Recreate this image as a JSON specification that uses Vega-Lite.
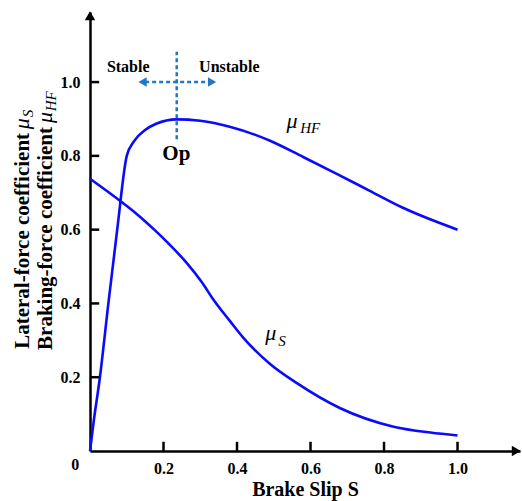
{
  "$schema": "https://vega.github.io/schema/vega-lite/v6.json",
  "width": 430,
  "height": 439,
  "autosize": {"type": "none"},
  "padding": {"left": 90, "top": 12, "right": 2, "bottom": 50},
  "background": "white",
  "config": {"view": {"stroke": null}},
  "datasets": {
    "curves": [
      {"series": "HF", "s": 0, "mu": 0},
      {"series": "HF", "s": 0.01, "mu": 0.08},
      {"series": "HF", "s": 0.027, "mu": 0.2},
      {"series": "HF", "s": 0.05, "mu": 0.4},
      {"series": "HF", "s": 0.074, "mu": 0.6},
      {"series": "HF", "s": 0.1, "mu": 0.8},
      {"series": "HF", "s": 0.12, "mu": 0.84},
      {"series": "HF", "s": 0.15, "mu": 0.87},
      {"series": "HF", "s": 0.18, "mu": 0.887},
      {"series": "HF", "s": 0.236, "mu": 0.899},
      {"series": "HF", "s": 0.3, "mu": 0.895},
      {"series": "HF", "s": 0.38, "mu": 0.879},
      {"series": "HF", "s": 0.45, "mu": 0.857},
      {"series": "HF", "s": 0.49, "mu": 0.841},
      {"series": "HF", "s": 0.58, "mu": 0.797},
      {"series": "HF", "s": 0.67, "mu": 0.752},
      {"series": "HF", "s": 0.76, "mu": 0.706},
      {"series": "HF", "s": 0.85, "mu": 0.66},
      {"series": "HF", "s": 1.0, "mu": 0.6},
      {"series": "S", "s": 0, "mu": 0.738},
      {"series": "S", "s": 0.086, "mu": 0.675},
      {"series": "S", "s": 0.123, "mu": 0.646},
      {"series": "S", "s": 0.177, "mu": 0.598},
      {"series": "S", "s": 0.218, "mu": 0.558},
      {"series": "S", "s": 0.263, "mu": 0.51},
      {"series": "S", "s": 0.304, "mu": 0.458},
      {"series": "S", "s": 0.336, "mu": 0.41},
      {"series": "S", "s": 0.381, "mu": 0.352},
      {"series": "S", "s": 0.418, "mu": 0.306},
      {"series": "S", "s": 0.49, "mu": 0.236},
      {"series": "S", "s": 0.563, "mu": 0.184},
      {"series": "S", "s": 0.681, "mu": 0.116},
      {"series": "S", "s": 0.826, "mu": 0.066},
      {"series": "S", "s": 0.926, "mu": 0.05},
      {"series": "S", "s": 1.0, "mu": 0.042}
    ],
    "xticks": [{"s": 0.2, "mu": 0}, {"s": 0.4, "mu": 0}, {"s": 0.6, "mu": 0}, {"s": 0.8, "mu": 0}, {"s": 1.0, "mu": 0}],
    "yticks": [{"s": 0, "mu": 0.2}, {"s": 0, "mu": 0.4}, {"s": 0, "mu": 0.6}, {"s": 0, "mu": 0.8}, {"s": 0, "mu": 1.0}],
    "vrule": [{"s": 0.236, "y1": 0.845, "y2": 1.082}],
    "hrule": [{"s1": 0.15, "s2": 0.325, "mu": 1.0}],
    "heads": [
      {"s": 0.143, "mu": 1.0, "shape": "triangle-left"},
      {"s": 0.332, "mu": 1.0, "shape": "triangle-right"}
    ],
    "axisarrows": [
      {"s": 1.16, "mu": 0, "shape": "triangle-right"},
      {"s": 0, "mu": 1.18, "shape": "triangle-up"}
    ],
    "boldtext": [
      {"s": 0.104, "mu": 1.04, "text": "Stable", "size": 16},
      {"s": 0.379, "mu": 1.04, "text": "Unstable", "size": 16},
      {"s": 0.235, "mu": 0.805, "text": "Op", "size": 21},
      {"s": -0.04, "mu": -0.038, "text": "0", "size": 16}
    ],
    "ytitle": [
      {"s": -0.166, "mu": 0.277, "text": "Lateral-force coefficient"},
      {"s": -0.1035, "mu": 0.274, "text": "Braking-force coefficient"}
    ],
    "ytitlemu": [
      {"s": -0.166, "mu": 0.872, "text": "μ"},
      {"s": -0.1035, "mu": 0.889, "text": "μ"}
    ],
    "ytitlesub": [
      {"s": -0.155, "mu": 0.905, "text": "S"},
      {"s": -0.093, "mu": 0.921, "text": "HF"}
    ],
    "mutext": [
      {"s": 0.55, "mu": 0.875, "text": "μ"},
      {"s": 0.492, "mu": 0.302, "text": "μ"}
    ],
    "subtext": [
      {"s": 0.572, "mu": 0.861, "text": "HF"},
      {"s": 0.512, "mu": 0.285, "text": "S"}
    ]
  },
  "layer": [
    {
      "data": {"name": "curves"},
      "mark": {"type": "line", "color": "#0a0aff", "strokeWidth": 2.6, "interpolate": "monotone"},
      "encoding": {
        "x": {
          "field": "s", "type": "quantitative",
          "scale": {"domain": [0, 1.17], "nice": false, "zero": false},
          "axis": {
            "values": [0.2, 0.4, 0.6, 0.8, 1.0], "format": ".1f", "grid": false, "ticks": false,
            "domainColor": "black", "domainWidth": 2.5,
            "labelFont": "Liberation Serif", "labelFontWeight": "bold", "labelFontSize": 16, "labelColor": "black", "labelPadding": 9,
            "title": "Brake Slip S", "titleFont": "Liberation Serif", "titleFontWeight": "bold", "titleFontSize": 20, "titleColor": "black", "titlePadding": 3
          }
        },
        "y": {
          "field": "mu", "type": "quantitative",
          "scale": {"domain": [0, 1.19], "nice": false, "zero": false},
          "axis": {
            "values": [0.2, 0.4, 0.6, 0.8, 1.0], "format": ".1f", "grid": false, "ticks": false,
            "domainColor": "black", "domainWidth": 2.5,
            "labelFont": "Liberation Serif", "labelFontWeight": "bold", "labelFontSize": 16, "labelColor": "black", "labelPadding": 10,
            "title": null
          }
        },
        "detail": {"field": "series"}
      }
    },
    {
      "data": {"name": "xticks"},
      "mark": {"type": "rule", "color": "black", "strokeWidth": 2.5, "clip": false},
      "encoding": {
        "x": {"field": "s", "type": "quantitative"},
        "y": {"field": "mu", "type": "quantitative"},
        "y2": {"datum": 0.025}
      }
    },
    {
      "data": {"name": "yticks"},
      "mark": {"type": "rule", "color": "black", "strokeWidth": 2.5, "clip": false},
      "encoding": {
        "x": {"field": "s", "type": "quantitative"},
        "x2": {"datum": 0.025},
        "y": {"field": "mu", "type": "quantitative"}
      }
    },
    {
      "data": {"name": "vrule"},
      "mark": {"type": "rule", "color": "#1f78c1", "strokeWidth": 2.5, "strokeDash": [4, 3]},
      "encoding": {
        "x": {"field": "s", "type": "quantitative"},
        "y": {"field": "y1", "type": "quantitative"},
        "y2": {"field": "y2"}
      }
    },
    {
      "data": {"name": "hrule"},
      "mark": {"type": "rule", "color": "#1f78c1", "strokeWidth": 2.5, "strokeDash": [4, 3]},
      "encoding": {
        "x": {"field": "s1", "type": "quantitative"},
        "x2": {"field": "s2"},
        "y": {"field": "mu", "type": "quantitative"}
      }
    },
    {
      "data": {"name": "heads"},
      "mark": {"type": "point", "filled": true, "color": "#1f78c1", "opacity": 1, "size": 90},
      "encoding": {
        "x": {"field": "s", "type": "quantitative"},
        "y": {"field": "mu", "type": "quantitative"},
        "shape": {"field": "shape", "type": "nominal", "scale": null}
      }
    },
    {
      "data": {"name": "axisarrows"},
      "mark": {"type": "point", "filled": true, "color": "black", "opacity": 1, "size": 110, "clip": false},
      "encoding": {
        "x": {"field": "s", "type": "quantitative"},
        "y": {"field": "mu", "type": "quantitative"},
        "shape": {"field": "shape", "type": "nominal", "scale": null}
      }
    },
    {
      "data": {"name": "boldtext"},
      "mark": {"type": "text", "font": "Liberation Serif", "fontWeight": "bold", "color": "black", "baseline": "middle", "align": "center"},
      "encoding": {
        "x": {"field": "s", "type": "quantitative"},
        "y": {"field": "mu", "type": "quantitative"},
        "text": {"field": "text"},
        "size": {"field": "size", "type": "quantitative", "scale": null}
      }
    },
    {
      "data": {"name": "ytitle"},
      "mark": {"type": "text", "font": "Liberation Serif", "fontWeight": "bold", "fontSize": 21, "color": "black", "baseline": "alphabetic", "align": "left", "angle": 270},
      "encoding": {
        "x": {"field": "s", "type": "quantitative"},
        "y": {"field": "mu", "type": "quantitative"},
        "text": {"field": "text"}
      }
    },
    {
      "data": {"name": "ytitlemu"},
      "mark": {"type": "text", "font": "Liberation Serif", "fontStyle": "italic", "fontSize": 22, "color": "black", "baseline": "alphabetic", "align": "left", "angle": 270},
      "encoding": {
        "x": {"field": "s", "type": "quantitative"},
        "y": {"field": "mu", "type": "quantitative"},
        "text": {"field": "text"}
      }
    },
    {
      "data": {"name": "ytitlesub"},
      "mark": {"type": "text", "font": "Liberation Serif", "fontStyle": "italic", "fontSize": 15, "color": "black", "baseline": "alphabetic", "align": "left", "angle": 270},
      "encoding": {
        "x": {"field": "s", "type": "quantitative"},
        "y": {"field": "mu", "type": "quantitative"},
        "text": {"field": "text"}
      }
    },
    {
      "data": {"name": "mutext"},
      "mark": {"type": "text", "font": "Liberation Serif", "fontStyle": "italic", "fontSize": 22, "color": "black", "baseline": "alphabetic", "align": "center"},
      "encoding": {
        "x": {"field": "s", "type": "quantitative"},
        "y": {"field": "mu", "type": "quantitative"},
        "text": {"field": "text"}
      }
    },
    {
      "data": {"name": "subtext"},
      "mark": {"type": "text", "font": "Liberation Serif", "fontStyle": "italic", "fontSize": 15, "color": "black", "baseline": "alphabetic", "align": "left"},
      "encoding": {
        "x": {"field": "s", "type": "quantitative"},
        "y": {"field": "mu", "type": "quantitative"},
        "text": {"field": "text"}
      }
    }
  ]
}
